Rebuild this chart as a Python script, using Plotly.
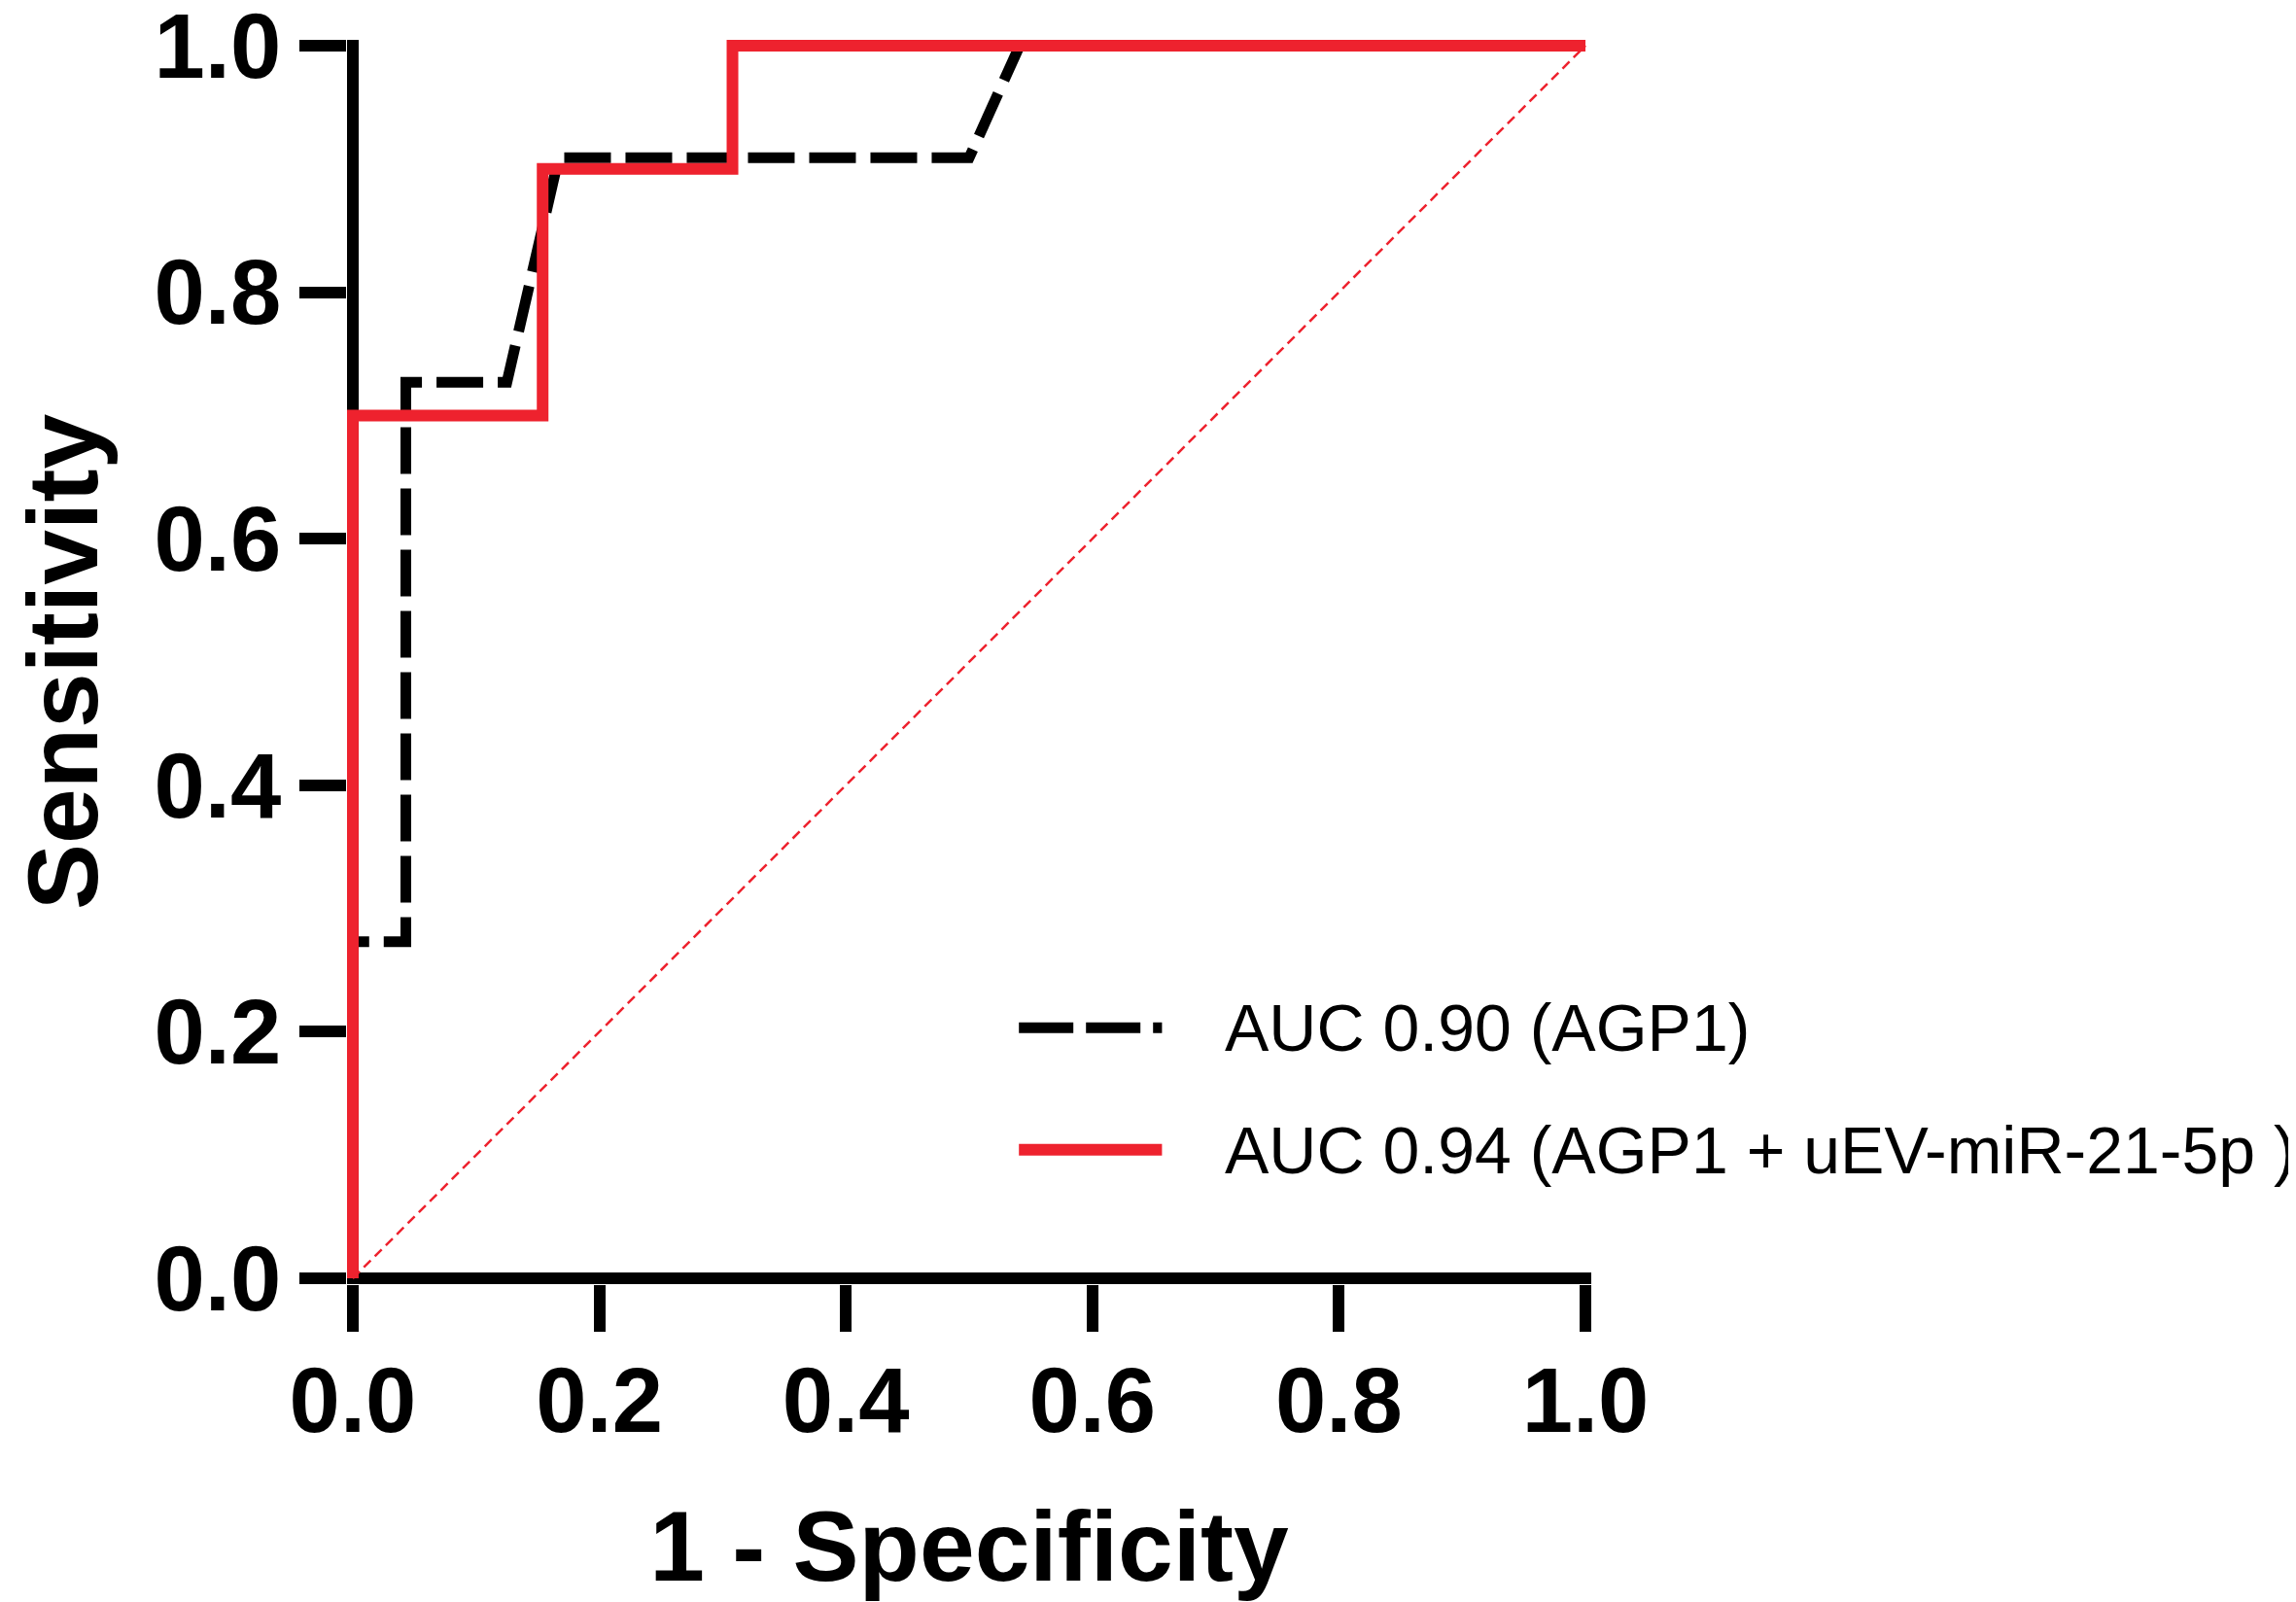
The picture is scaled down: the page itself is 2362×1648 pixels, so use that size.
import plotly.graph_objects as go

# ROC curves
agp1_fpr = [0.0, 0.0, 0.043, 0.043, 0.125, 0.167, 0.50, 0.541, 1.0]
agp1_tpr = [0.0, 0.273, 0.273, 0.727, 0.727, 0.909, 0.909, 1.0, 1.0]

combo_fpr = [0.0, 0.0, 0.154, 0.154, 0.308, 0.308, 1.0]
combo_tpr = [0.0, 0.70, 0.70, 0.90, 0.90, 1.0, 1.0]

chance_fpr = [0.0, 1.0]
chance_tpr = [0.0, 1.0]

legend_labels = ["AUC 0.90 (AGP1)", "AUC 0.94 (AGP1 + uEV-miR-21-5p )"]
tick_vals = [0.0, 0.2, 0.4, 0.6, 0.8, 1.0]

RED = "#EE222E"
FONT = "Arial, Liberation Sans, sans-serif"

# the page body adds an 8px margin, so the figure is 8px smaller than the window
W, H = 2354, 1640
pad = 0.0047  # keeps the thick zero lines inside the plot area

fig = go.Figure()

# reference diagonal
fig.add_trace(go.Scatter(x=chance_fpr, y=chance_tpr, mode="lines",
                         line=dict(color=RED, width=2.5, dash="10px,6px"),
                         showlegend=False, hoverinfo="skip"))
fig.add_trace(go.Scatter(x=agp1_fpr, y=agp1_tpr, mode="lines", name=legend_labels[0],
                         line=dict(color="black", width=11, dash="48px,15px"),
                         showlegend=False))
fig.add_trace(go.Scatter(x=combo_fpr, y=combo_tpr, mode="lines", name=legend_labels[1],
                         line=dict(color=RED, width=12),
                         showlegend=False))

axis_common = dict(
    range=[-pad, 1 + pad],
    tickmode="array", tickvals=tick_vals, tickformat=".1f",
    ticks="outside", ticklen=48, tickwidth=12, tickcolor="black",
    showline=False, showgrid=False,
    zeroline=True, zerolinecolor="black", zerolinewidth=12,
    tickfont=dict(family=FONT, size=94, color="black", weight="bold"),
    ticklabeloverflow="allow",
    fixedrange=True,
)

fig.update_xaxes(**axis_common, ticklabelstandoff=-10,
                 title=dict(text="1 - Specificity", standoff=62,
                            font=dict(family=FONT, size=102, color="black", weight="bold")))
fig.update_yaxes(**axis_common,
                 title=dict(text="Sensitivity", standoff=45,
                            font=dict(family=FONT, size=102, color="black", weight="bold")))

# hand-made legend so the key lines can be as long as in the original
key_x0, key_x1, text_x = 0.540, 0.655, 0.704
key_y = [0.206, 0.108]
key_styles = [dict(color="black", width=11, dash="56px,13px"),
              dict(color=RED, width=12)]
for label, ky, style in zip(legend_labels, key_y, key_styles):
    fig.add_shape(type="line", xref="paper", yref="paper",
                  x0=key_x0, x1=key_x1, y0=ky, y1=ky, line=style)
    fig.add_annotation(xref="paper", yref="paper", x=text_x, y=ky,
                       xanchor="left", yanchor="middle", showarrow=False,
                       text=label, font=dict(family=FONT, size=68, color="black"))

fig.update_layout(
    width=W, height=H,
    margin=dict(l=349, r=725, t=33, b=327, autoexpand=False),
    paper_bgcolor="white", plot_bgcolor="white",
    showlegend=False,
)

fig.write_html("out.html")
